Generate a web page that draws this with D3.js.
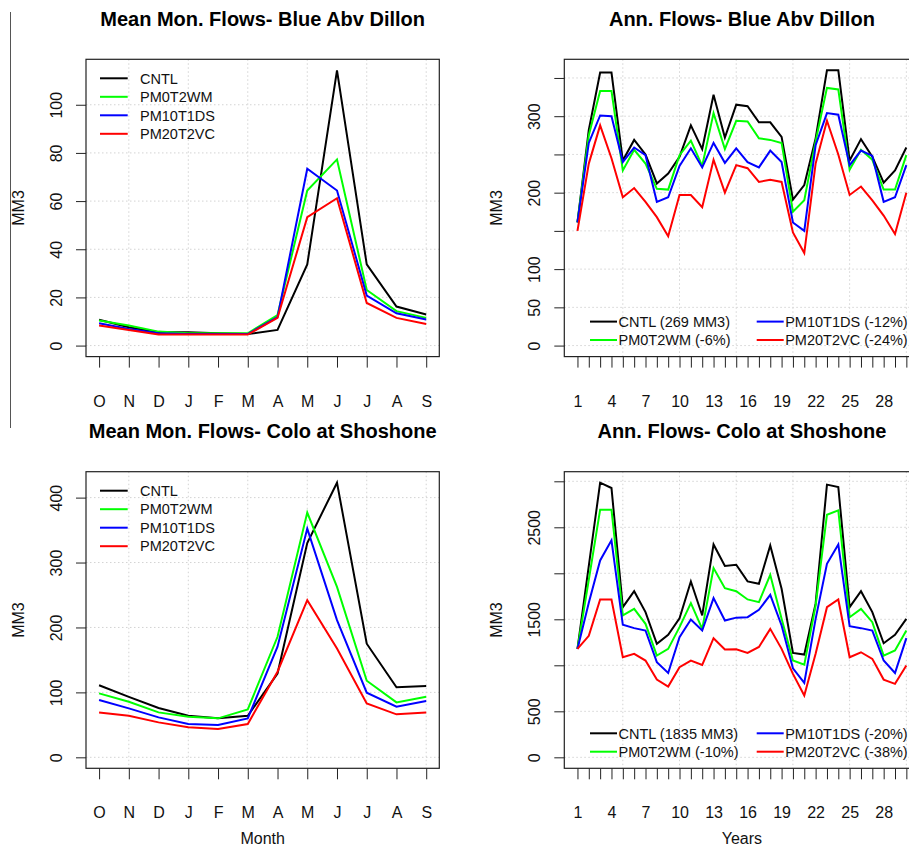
<!DOCTYPE html>
<html>
<head>
<meta charset="utf-8">
<script src="https://cdn.jsdelivr.net/npm/d3@7"></script>
<style>
  html, body { margin: 0; padding: 0; background: #fff; overflow: hidden; }
  svg { display: block; font-family: "Liberation Sans", Arial, Helvetica, sans-serif; }
</style>
</head>
<body>
<svg id="chart" width="909" height="849"></svg>
<script>
// ---- Data -------------------------------------------------------------
const monthLabels = ["O", "N", "D", "J", "F", "M", "A", "M", "J", "J", "A", "S"];
const monthIndex = d3.range(1, 13);
const yearIndex = d3.range(1, 31);

const seriesNames = ["CNTL", "PM0T2WM", "PM10T1DS", "PM20T2VC"];
const seriesColors = ["#000000", "#00ff00", "#0000ff", "#ff0000"];

// Mean monthly flows, Blue above Dillon (MM3)
const dillonMonCNTL = [10.7, 7.6, 5.5, 5.5, 5.1, 4.8, 6.5, 33.7, 114.3, 33.7, 16.2, 12.9];
const dillonMonPM0  = [10.4, 8.3, 5.8, 5.1, 5.1, 5.1, 12.7, 64.4, 77.3, 23.1, 14.3, 11.5];
const dillonMonPM10 = [9.3, 6.9, 5.1, 4.8, 4.8, 4.8, 11.8, 73.4, 64.4, 20.8, 13.4, 10.8];
const dillonMonPM20 = [8.3, 6.5, 4.6, 4.6, 4.6, 4.6, 11.5, 53.3, 61.2, 17.7, 11.5, 9.0];

// Mean monthly flows, Colorado at Shoshone (MM3)
const shoMonCNTL = [111, 93, 76, 64, 60, 64, 129, 330, 423, 175, 108, 110];
const shoMonPM0  = [98.5, 85.6, 69.2, 62.6, 60, 73.8, 185.6, 377, 262.6, 118, 84.6, 93.3];
const shoMonPM10 = [88.2, 75.4, 61.5, 51.3, 49.7, 60, 170.3, 352.3, 211.3, 99.5, 78, 86.7];
const shoMonPM20 = [69.2, 64.1, 53.8, 46.2, 43.6, 51.3, 131.8, 242, 167.7, 83, 66.2, 69.2];

// Annual flows, Blue above Dillon (MM3), years 1..30
const dillonAnnCNTL = [161, 282, 357, 357, 242, 269, 250, 212, 225, 247, 288, 257, 328, 272, 315,
                       313, 292, 292, 273, 191, 210, 271, 360, 360, 242, 270, 247, 213, 229, 259];
const dillonAnnPM0  = [161, 275, 333, 333, 229, 256, 238, 205, 204, 249, 268, 235, 304, 257, 294,
                       293, 271, 269, 265, 175, 190, 267, 337, 335, 230, 256, 243, 204, 204, 249];
const dillonAnnPM10 = [161, 265, 301, 300, 240, 259, 249, 188, 194, 235, 258, 233, 265, 239, 258,
                       240, 233, 255, 240, 161, 150, 262, 304, 302, 236, 255, 248, 188, 194, 236];
const dillonAnnPM20 = [150, 238, 288, 245, 194, 206, 188, 168, 143, 197, 197, 181, 243, 200, 236,
                       232, 214, 217, 214, 148, 121, 238, 294, 250, 197, 208, 190, 170, 146, 200];

// Annual flows, Colorado at Shoshone (MM3), years 1..30
const shoAnnCNTL = [1178, 2080, 2985, 2927, 1632, 1806, 1578, 1233, 1331, 1512, 1912, 1542, 2314, 2079, 2093,
                    1912, 1886, 2303, 1832, 1135, 1117, 1670, 2964, 2938, 1632, 1806, 1578, 1240, 1331, 1505];
const shoAnnPM0  = [1178, 1930, 2692, 2692, 1542, 1614, 1451, 1106, 1179, 1415, 1676, 1396, 2057, 1839, 1805,
                    1716, 1687, 1984, 1505, 1052, 1008, 1650, 2637, 2684, 1523, 1614, 1469, 1106, 1161, 1378];
const shoAnnPM10 = [1178, 1680, 2140, 2358, 1440, 1404, 1378, 1034, 917, 1306, 1498, 1378, 1730, 1487, 1518,
                    1523, 1603, 1766, 1433, 968, 809, 1505, 2104, 2314, 1425, 1404, 1378, 1052, 917, 1295];
const shoAnnPM20 = [1178, 1320, 1716, 1716, 1088, 1124, 1052, 845, 769, 979, 1052, 1005, 1295, 1171, 1175,
                    1135, 1200, 1396, 1179, 907, 671, 1125, 1632, 1716, 1088, 1142, 1070, 845, 798, 997];

const dillonAnnLegend = ["CNTL (269 MM3)", "PM0T2WM (-6%)", "PM10T1DS (-12%)", "PM20T2VC (-24%)"];
const shoAnnLegend = ["CNTL (1835 MM3)", "PM0T2WM (-10%)", "PM10T1DS (-20%)", "PM20T2VC (-38%)"];

// Tick values
const monYTicksDillon = [0, 20, 40, 60, 80, 100];
const monYTicksSho = [0, 100, 200, 300, 400];
const annYTicksDillon = [0, 50, 100, 150, 200, 250, 300, 350];
const annYLabelsDillon = [0, 50, 100, 200, 300];
const annYTicksSho = [0, 500, 1000, 1500, 2000, 2500, 3000];
const annYLabelsSho = [0, 500, 1500, 2500];
const annXLabels = [1, 4, 7, 10, 13, 16, 19, 22, 25, 28];
const monGridX = [2, 4, 6, 8, 10, 12];
const annGridX = [5, 10, 15, 20, 25, 30];

// ---- Layout -----------------------------------------------------------
const svg = d3.select("#chart");
const colLeft = { x0: 86, x1: 439.3 };
const colRight = { x0: 564.3, x1: 919.5 };
const rowTop = { yt: 59.3, yb: 356.6 };
const rowBottom = { yt: 471.7, yb: 768.3 };

// thin frame line at the far left of the upper half
svg.append("line")
  .attr("x1", 10.5).attr("x2", 10.5).attr("y1", 12).attr("y2", 428)
  .attr("stroke", "#555").attr("stroke-width", 1);

let panelCount = 0;

function drawPanel(p) {
  const { x0, x1 } = p.col;
  const { yt, yb } = p.row;
  const g = svg.append("g");
  const id = "clip" + (panelCount++);

  const xExt = d3.extent(p.xValues);
  const xPad = (xExt[1] - xExt[0]) * 0.04;
  const x = d3.scaleLinear().domain([xExt[0] - xPad, xExt[1] + xPad]).range([x0, x1]);

  const yMax = d3.max(p.series, s => d3.max(s));
  const yPad = yMax * 0.04;
  const y = d3.scaleLinear().domain([-yPad, yMax + yPad]).range([yb, yt]);

  g.append("clipPath").attr("id", id).append("rect")
    .attr("x", x0).attr("y", yt).attr("width", x1 - x0).attr("height", yb - yt);

  // dotted grid
  const grid = g.append("g").attr("clip-path", `url(#${id})`)
    .attr("stroke", "#d3d3d3").attr("stroke-width", 1).attr("stroke-dasharray", "1.5,2.5");
  grid.selectAll("line.gx").data(p.xGrid).join("line")
    .attr("x1", d => x(d)).attr("x2", d => x(d)).attr("y1", yt).attr("y2", yb);
  grid.selectAll("line.gy").data(p.yTicks).join("line")
    .attr("x1", x0).attr("x2", x1).attr("y1", d => y(d)).attr("y2", d => y(d));

  // series lines
  const line = d3.line().x((d, i) => x(p.xValues[i])).y(d => y(d));
  const lines = g.append("g").attr("clip-path", `url(#${id})`);
  p.series.forEach((s, k) => {
    lines.append("path").datum(s)
      .attr("d", line)
      .attr("fill", "none")
      .attr("stroke", seriesColors[k])
      .attr("stroke-width", 2)
      .attr("stroke-linejoin", "miter");
  });

  // plot frame
  g.append("rect")
    .attr("x", x0).attr("y", yt).attr("width", x1 - x0).attr("height", yb - yt)
    .attr("fill", "none").attr("stroke", "#222").attr("stroke-width", 1.2);

  // x axis
  const xAxis = d3.axisBottom(x).tickValues(p.xTicks).tickSize(11)
    .tickFormat(p.xFormat);
  const ax = g.append("g").attr("transform", `translate(0,${yb})`).call(xAxis);
  ax.select(".domain").remove();
  ax.attr("font-size", null).attr("font-family", null);
  ax.selectAll(".tick line").attr("stroke", "#222");
  ax.selectAll(".tick text").attr("y", 50).attr("dy", 0)
    .attr("fill", "#111").style("font-size", "16px");

  // y axis with labels rotated along the axis
  const yAxis = d3.axisLeft(y).tickValues(p.yTicks).tickSize(10)
    .tickFormat(v => p.yLabels.includes(v) ? String(v) : "");
  const ay = g.append("g").attr("transform", `translate(${x0},0)`).call(yAxis);
  ay.select(".domain").remove();
  ay.attr("font-size", null).attr("font-family", null);
  ay.selectAll(".tick line").attr("stroke", "#222");
  ay.selectAll(".tick text")
    .attr("x", 0).attr("y", -24).attr("dy", 0)
    .attr("transform", "rotate(-90)")
    .attr("text-anchor", "middle")
    .attr("fill", "#111").style("font-size", "16px");

  // titles
  g.append("text")
    .attr("x", (x0 + x1) / 2).attr("y", yt - 33.5)
    .attr("text-anchor", "middle")
    .style("font-size", "20px").style("font-weight", "bold")
    .attr("fill", "#000")
    .text(p.title);

  g.append("text")
    .attr("transform", `translate(${x0 - 62.5},${(yt + yb) / 2}) rotate(-90)`)
    .attr("text-anchor", "middle")
    .style("font-size", "16px").attr("fill", "#111")
    .text("MM3");

  if (p.xTitle) {
    g.append("text")
      .attr("x", (x0 + x1) / 2).attr("y", yb + 76)
      .attr("text-anchor", "middle")
      .style("font-size", "16px").attr("fill", "#111")
      .text(p.xTitle);
  }

  // legend
  const leg = g.append("g").style("font-size", "14.5px");
  if (p.legendType === "stack") {
    seriesNames.forEach((name, k) => {
      const ly = yt + 19 + k * 18.5;
      leg.append("line").attr("x1", x0 + 14).attr("x2", x0 + 41.7)
        .attr("y1", ly).attr("y2", ly)
        .attr("stroke", seriesColors[k]).attr("stroke-width", 2);
      leg.append("text").attr("x", x0 + 54).attr("y", ly).attr("dy", "0.36em")
        .attr("fill", "#111").text(name);
    });
  } else {
    p.legendLabels.forEach((label, k) => {
      const colIdx = Math.floor(k / 2);
      const rowIdx = k % 2;
      const ly = yb - 35 + rowIdx * 18.4;
      const lx = x0 + 25.7 + colIdx * 166.7;
      leg.append("line").attr("x1", lx).attr("x2", lx + 27)
        .attr("y1", ly).attr("y2", ly)
        .attr("stroke", seriesColors[k]).attr("stroke-width", 2);
      leg.append("text").attr("x", lx + 28.5).attr("y", ly).attr("dy", "0.36em")
        .attr("fill", "#111").text(label);
    });
  }
}

drawPanel({
  col: colLeft, row: rowTop,
  title: "Mean Mon. Flows- Blue Abv Dillon",
  xValues: monthIndex, xTicks: monthIndex, xFormat: v => monthLabels[v - 1],
  xGrid: monGridX,
  series: [dillonMonCNTL, dillonMonPM0, dillonMonPM10, dillonMonPM20],
  yTicks: monYTicksDillon, yLabels: monYTicksDillon,
  legendType: "stack"
});

drawPanel({
  col: colRight, row: rowTop,
  title: "Ann. Flows- Blue Abv Dillon",
  xValues: yearIndex, xTicks: yearIndex,
  xFormat: v => annXLabels.includes(v) ? String(v) : "",
  xGrid: annGridX,
  series: [dillonAnnCNTL, dillonAnnPM0, dillonAnnPM10, dillonAnnPM20],
  yTicks: annYTicksDillon, yLabels: annYLabelsDillon,
  legendType: "columns", legendLabels: dillonAnnLegend
});

drawPanel({
  col: colLeft, row: rowBottom,
  title: "Mean Mon. Flows- Colo at Shoshone",
  xValues: monthIndex, xTicks: monthIndex, xFormat: v => monthLabels[v - 1],
  xGrid: monGridX,
  series: [shoMonCNTL, shoMonPM0, shoMonPM10, shoMonPM20],
  yTicks: monYTicksSho, yLabels: monYTicksSho,
  xTitle: "Month",
  legendType: "stack"
});

drawPanel({
  col: colRight, row: rowBottom,
  title: "Ann. Flows- Colo at Shoshone",
  xValues: yearIndex, xTicks: yearIndex,
  xFormat: v => annXLabels.includes(v) ? String(v) : "",
  xGrid: annGridX,
  series: [shoAnnCNTL, shoAnnPM0, shoAnnPM10, shoAnnPM20],
  yTicks: annYTicksSho, yLabels: annYLabelsSho,
  xTitle: "Years",
  legendType: "columns", legendLabels: shoAnnLegend
});
</script>
</body>
</html>
